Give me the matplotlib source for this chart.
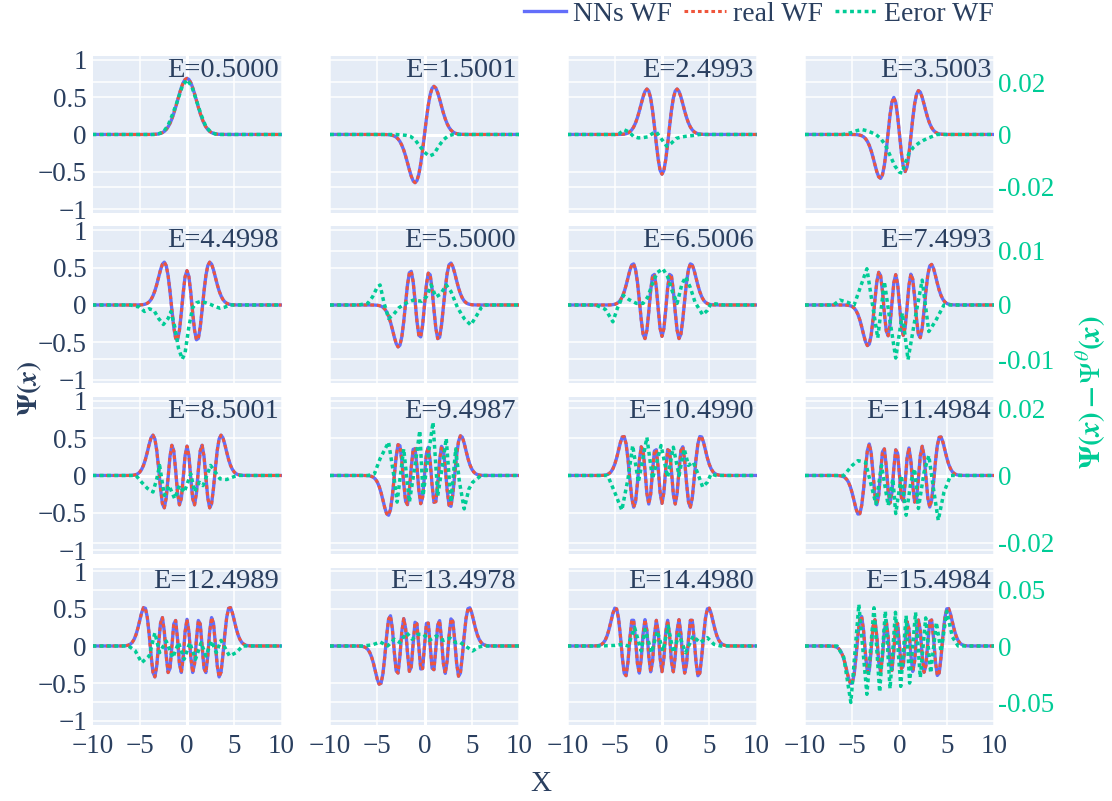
import numpy as np
import matplotlib
matplotlib.use("Agg")
import matplotlib.pyplot as plt
from matplotlib.lines import Line2D

# quantum numbers and the energies printed in each panel
levels = list(range(16))
energies = ["0.5000", "1.5001", "2.4993", "3.5003",
            "4.4998", "5.5000", "6.5006", "7.4993",
            "8.5001", "9.4987", "10.4990", "11.4984",
            "12.4989", "13.4978", "14.4980", "15.4984"]

# right axis (error) range and ticks for each row
err_lim = [0.0301, 0.0145, 0.0233, 0.0699]
err_ticks = [[-0.02, 0, 0.02], [-0.01, 0, 0.01], [-0.02, 0, 0.02], [-0.05, 0, 0.05]]
err_ticklabels = [["-0.02", "0", "0.02"], ["-0.01", "0", "0.01"],
                  ["-0.02", "0", "0.02"], ["-0.05", "0", "0.05"]]

# error curves (x, value)
err_00 = [(-3.5, 0), (-3, 0.0003), (-2.5, 0.001), (-2, 0.0035), (-1.5, 0.008), (-1, 0.013),
          (-0.5, 0.0185), (0, 0.021), (0.5, 0.0185), (1, 0.013), (1.5, 0.0075), (2, 0.003),
          (2.5, 0.001), (3, 0.0002), (3.5, 0)]
err_01 = [(-3.5, 0), (-3, 0), (-2, -0.0003), (-1.5, -0.0007), (-1, -0.002), (-0.5, -0.0045),
          (0, -0.0068), (0.5, -0.0083), (1, -0.0075), (1.5, -0.0045), (2, -0.002),
          (2.5, -0.0006), (3, 0), (3.5, 0)]
err_02 = [(-5, 0), (-4.5, 0.0004), (-4, 0.0018), (-3.5, 0.0010), (-3, -0.0008), (-2.5, -0.0013),
          (-2, -0.0012), (-1.5, -0.0009), (-1, 0.0004), (-0.6, 0.0010), (0, -0.0020),
          (0.5, -0.0045), (1, -0.0033), (1.5, -0.0015), (2, -0.0010), (2.5, -0.0007),
          (3, -0.0005), (3.5, -0.0003), (4, 0), (4.5, 0)]
err_03 = [(-6, 0), (-5, 0.0008), (-4.5, 0.0015), (-4, 0.0019), (-3.5, 0.0015), (-3, 0.0008),
          (-2.5, 0), (-2, -0.0015), (-1.5, -0.004), (-1, -0.008), (-0.5, -0.012), (0, -0.0145),
          (0.3, -0.0148), (0.5, -0.012), (1, -0.0072), (1.5, -0.0048), (2, -0.0034),
          (2.5, -0.0023), (3, -0.0014), (3.5, -0.0007), (4, 0), (4.5, 0)]
err_04 = [(-6, 0), (-5, -0.0004), (-4.5, -0.0012), (-4, -0.0007), (-3.5, -0.0010), (-3, -0.0025),
          (-2.5, -0.0036), (-2, -0.0025), (-1.7, -0.0012), (-1.3, -0.0040), (-0.9, -0.0080),
          (-0.5, -0.0100), (-0.2, -0.0088), (0.2, -0.0040), (0.6, -0.0005), (1, 0.0004),
          (1.5, 0.0007), (2, 0.0004), (2.5, 0.0001), (3, -0.0003), (3.5, -0.0006),
          (4, -0.0004), (4.5, 0), (5, 0)]
err_05 = [(-7, 0), (-6, 0.0003), (-5.5, 0.0015), (-5, 0.0033), (-4.7, 0.0037), (-4.3, 0.0005),
          (-3.8, -0.0025), (-3.3, -0.0018), (-2.7, -0.0005), (-2, 0.0003), (-1.2, 0.0009),
          (-0.3, 0.0007), (0.2, 0.0015), (0.7, 0.0037), (1.2, 0.0015), (1.7, 0.0020),
          (2.3, 0.0037), (2.8, 0.0025), (3.5, -0.0005), (4.2, -0.0025), (4.9, -0.0037),
          (5.5, -0.0020), (6, -0.0005), (6.5, 0)]
err_06 = [(-7, 0), (-6, -0.0008), (-5.5, -0.0022), (-5.2, -0.0031), (-4.7, -0.0005),
          (-4.1, 0.0018), (-3.5, 0.0010), (-2.7, 0.0003), (-2, 0.0003), (-1.5, 0.0015),
          (-1, 0.0040), (-0.5, 0.0060), (0.1, 0.0067), (0.6, 0.0052), (1.1, 0.0025),
          (1.6, 0.0003), (2.1, 0.0038), (2.5, 0.0052), (3, 0.0032), (3.5, 0.0005),
          (4.3, -0.0018), (4.8, -0.0010), (5.2, 0.0003), (5.7, 0.0002), (6.5, 0)]
err_07 = [(-7, 0), (-6.3, 0.0009), (-5.5, 0.0005), (-4.8, 0), (-4.2, 0.0030), (-3.45, 0.0067),
          (-2.9, 0.0005), (-2.3, -0.0061), (-1.6, 0.0043), (-1, -0.0030), (-0.4, -0.0098),
          (0.3, -0.0015), (0.9, -0.0101), (1.7, -0.0020), (2.4, 0.0046), (3.1, -0.0049),
          (3.8, -0.0030), (4.7, 0), (5.5, 0)]
err_08 = [(-6, 0), (-5.4, 0), (-4.8, -0.0020), (-4.2, -0.0038), (-3.6, -0.0049), (-3.2, -0.0010),
          (-2.9, 0.0030), (-2.4, -0.0059), (-1.9, -0.0030), (-1.3, -0.0069), (-0.8, -0.0030),
          (-0.3, -0.0050), (0.4, 0.0005), (0.8, -0.0049), (1.3, -0.0020), (1.7, -0.0030),
          (2.5, 0.0030), (3, 0.0010), (3.5, -0.0010), (4.2, -0.0012), (5, -0.0003), (5.5, 0)]
err_09 = [(-6, 0), (-5.3, 0.0005), (-4.7, 0.0050), (-3.8, 0.0099), (-3.3, 0.0010),
          (-2.9, -0.0079), (-2.55, 0), (-2.2, 0.0079), (-1.9, 0), (-1.6, -0.0079),
          (-1.0, 0.0030), (-0.5, 0.0133), (-0.15, -0.0060), (0.4, 0.0060), (0.9, 0.0158),
          (1.4, -0.0060), (1.9, 0.0030), (2.3, 0.0110), (2.8, -0.0079), (3.3, 0.0079),
          (3.7, -0.0020), (4.2, -0.0099), (4.7, -0.0040), (5.1, -0.0020), (6, 0)]
err_10 = [(-6.5, 0), (-5.75, 0), (-5, -0.0050), (-4.25, -0.0103), (-3.6, -0.0010),
          (-3.1, 0.0089), (-2.5, -0.0020), (-1.6, 0.0113), (-1.0, -0.0010), (-0.1, 0.0089),
          (0.6, -0.0005), (1.2, 0.0084), (1.8, 0.0), (2.35, 0.0079), (2.8, 0.0030),
          (3.3, 0.0040), (3.8, 0.0005), (4.3, -0.0034), (4.8, -0.0020), (5.2, 0.0005),
          (5.7, 0), (6.5, 0)]
err_11 = [(-6.5, 0), (-5.9, 0), (-5, 0.0030), (-4.4, 0.0044), (-3.6, 0.0039), (-2.5, -0.0084),
          (-1.9, 0.0030), (-1.2, -0.0089), (-0.7, -0.0010), (-0.4, -0.0113), (0.2, 0.0000),
          (0.7, -0.0118), (1.2, -0.0020), (1.6, 0.0020), (2.0, -0.0098), (2.6, 0.0010),
          (3.1, 0.0059), (3.6, -0.0040), (4.1, -0.0133), (4.7, -0.0050), (5.4, 0), (6, 0)]
err_12 = [(-6.5, 0), (-6.2, 0), (-5.5, -0.004), (-4.8, -0.0148), (-4.0, -0.0089), (-3.4, 0.0118),
          (-2.9, -0.0059), (-2.2, 0.0044), (-1.5, -0.0104), (-0.9, 0.0030), (-0.3, -0.0118),
          (0.3, 0.0030), (0.9, -0.0118), (1.5, 0.0030), (2.0, -0.0089), (2.6, 0.0044),
          (3.1, -0.0059), (3.6, 0.0050), (4.5, -0.0089), (5.2, -0.0059), (5.9, 0), (6.5, 0)]
err_13 = [(-6.5, 0), (-5.5, 0.0010), (-4.7, 0.0036), (-3.9, 0.0000), (-3.2, 0.0060),
          (-2.6, 0.0030), (-1.9, 0.0118), (-1.3, 0.0060), (-0.7, 0.0104), (-0.1, 0.0104),
          (0.5, 0.0050), (1.25, 0.0089), (2.0, 0.0050), (2.7, 0.0070), (3.3, 0.0030),
          (3.7, 0.0036), (4.5, -0.0010), (5.1, -0.0044), (5.7, -0.0010), (6.2, 0)]
err_14 = [(-6.5, 0), (-5, 0.0005), (-4.2, 0.0015), (-3.6, 0.0), (-2.9, 0.0163), (-2.2, -0.0044),
          (-1.8, 0.0148), (-1.1, -0.0059), (-0.5, 0.0133), (0.1, -0.0044), (0.65, 0.0178),
          (1.2, -0.0059), (1.8, 0.0104), (2.5, -0.0059), (3.3, 0.0089), (4.0, 0.0030),
          (4.8, 0.0074), (5.5, 0.0015), (6.2, 0)]
err_15 = [(-6.8, 0), (-6.6, 0), (-5.9, -0.010), (-5.15, -0.0503), (-4.3, 0.037), (-3.45, -0.043),
          (-2.7, 0.034), (-2.1, -0.041), (-1.5, 0.031), (-1.0, -0.038), (-0.43, 0.030),
          (0.13, -0.036), (0.7, 0.027), (1.07, -0.033), (1.7, 0.030), (2.2, -0.028),
          (2.77, 0.025), (3.3, -0.024), (3.9, 0.021), (4.4, -0.005), (5.0, 0.031),
          (5.6, 0.008), (6.2, 0), (6.8, 0)]
err_sets = [err_00, err_01, err_02, err_03, err_04, err_05, err_06, err_07,
            err_08, err_09, err_10, err_11, err_12, err_13, err_14, err_15]

xs = np.linspace(-10, 10, 101)

BLUE = "#636efa"
RED = "#EF553B"
GREEN = "#00cc96"
BG = "#E5ECF6"
TXT = "#2a3f5f"


def oscillator_states(x, nmax):
    # harmonic oscillator eigenfunctions (the "real WF"), by recurrence
    out = [np.pi ** -0.25 * np.exp(-x ** 2 / 2)]
    out.append(np.sqrt(2) * x * out[0])
    for n in range(1, nmax):
        out.append(np.sqrt(2 / (n + 1)) * x * out[n] - np.sqrt(n / (n + 1)) * out[n - 1])
    return out


def main():
    plt.rcParams["font.family"] = ["Liberation Serif", "DejaVu Serif"]
    plt.rcParams["mathtext.fontset"] = "stix"

    states = oscillator_states(xs, 15)

    fig = plt.figure(figsize=(11.12, 8.01), dpi=100)
    W, H = 1112, 801
    lefts = [92.5, 330, 567.5, 805]
    tops = [56, 226.5, 397, 567.5]
    aw, ah = 189, 157
    ylim_p = 1.05

    for k, n in enumerate(levels):
        r, c = divmod(k, 4)
        ax = fig.add_axes([lefts[c] / W, 1 - (tops[r] + ah) / H, aw / W, ah / H])
        ax.set_facecolor(BG)
        for s in ax.spines.values():
            s.set_visible(False)
        ax.set_xlim(-10, 10)
        ax.set_ylim(-ylim_p, ylim_p)
        ax.set_xticks([-10, -5, 0, 5, 10])
        ax.set_yticks([-1, -0.5, 0, 0.5, 1])
        ax.grid(True, color="white", lw=1.1, zorder=0)
        ax.set_axisbelow(True)
        ax.axhline(0, color="white", lw=2.2, zorder=0.5)
        ax.axvline(0, color="white", lw=2.2, zorder=0.5)
        # gridlines of the right-hand axis
        for t in err_ticks[r]:
            if t != 0:
                ax.axhline(t * ylim_p / err_lim[r], color="white", lw=1.1, zorder=0.5)
        ax.tick_params(axis="y", length=0, labelsize=19.5, colors=TXT, pad=4)
        ax.tick_params(axis="x", length=0, labelsize=19.5, colors=TXT, pad=7)
        if c == 0:
            ax.set_yticklabels(["\u22121", "\u22120.5", "0", "0.5", "1"])
        else:
            ax.set_yticklabels([])
        if r < 3:
            ax.set_xticklabels([])

        psi = states[n]
        ax.plot(xs, psi, color=BLUE, lw=2.4, zorder=2)
        ax.plot(xs, psi, color=RED, lw=2.2, dashes=(1.2, 1.0), zorder=3)
        ax.text(0.985, 0.99, "E=" + energies[k], transform=ax.transAxes,
                ha="right", va="top", fontsize=20.5, color=TXT, zorder=5)

        ax2 = ax.twinx()
        for s in ax2.spines.values():
            s.set_visible(False)
        ax2.set_ylim(-err_lim[r], err_lim[r])
        ax2.set_yticks(err_ticks[r])
        ax2.tick_params(length=0, labelsize=19.5, colors=GREEN, pad=3)
        if c == 3:
            ax2.set_yticklabels(err_ticklabels[r])
        else:
            ax2.set_yticklabels([])
        ex = [-10] + [p[0] for p in err_sets[k]] + [10]
        ey = [0] + [p[1] for p in err_sets[k]] + [0]
        ax2.plot(ex, ey, color=GREEN, lw=2.5, dashes=(1.1, 1.0), zorder=4)

    fig.text(30 / W, 1 - 388 / H, r"$\boldsymbol{\Psi(x)}$", rotation=90,
             ha="center", va="center", fontsize=20, color=TXT)
    fig.text(1091 / W, 1 - 392 / H, r"$\boldsymbol{\Psi(x)-\Psi^{\theta}(x)}$", rotation=90,
             ha="center", va="center", fontsize=21, color=GREEN)
    fig.text(541 / W, 1 - 784 / H, "X", ha="center", va="center", fontsize=21, color=TXT)

    handles = [Line2D([], [], color=BLUE, lw=2.4),
               Line2D([], [], color=RED, lw=2.2, dashes=(1.2, 1.0)),
               Line2D([], [], color=GREEN, lw=2.5, dashes=(1.1, 1.0))]
    fig.legend(handles, ["NNs WF", "real WF", "Eeror WF"], ncol=3, frameon=False,
               loc="upper left", bbox_to_anchor=(499 / W, 1.029), fontsize=20,
               handlelength=1.5, handletextpad=0.25, columnspacing=0.45,
               labelcolor=TXT)

    fig.savefig("out.png", dpi=100)


if __name__ == "__main__":
    main()
